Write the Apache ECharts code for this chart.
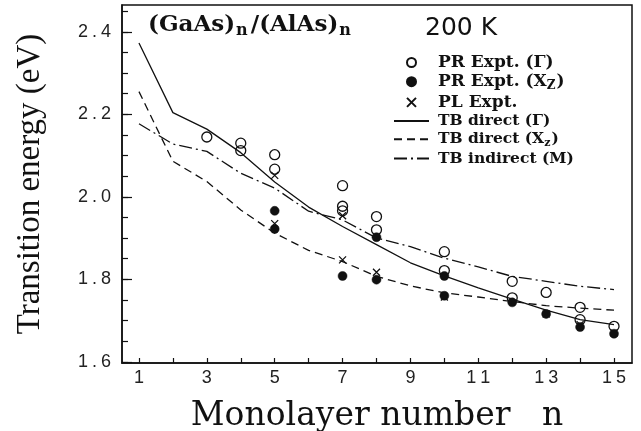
<!DOCTYPE html>
<html>
<head>
<meta charset="utf-8">
<script src="https://cdn.jsdelivr.net/npm/echarts@6/dist/echarts.min.js"></script>
<style>html,body{margin:0;padding:0;background:#fff;}#c{width:641px;height:431px;}</style>
</head>
<body>
<div id="c"></div>
<script>
// ---- data ----
const nTB = [1,2,3,4,5,6,7,8,9,10,11,12,13,14,15];
const tbDirectGamma = [2.373,2.204,2.164,2.107,2.036,1.975,1.928,1.884,1.840,1.808,1.779,1.752,1.725,1.702,1.690];
const tbDirectXz    = [2.255,2.086,2.037,1.968,1.912,1.870,1.843,1.807,1.784,1.767,1.757,1.746,1.736,1.730,1.725];
const tbIndirectM   = [2.177,2.128,2.110,2.057,2.021,1.965,1.944,1.900,1.879,1.851,1.830,1.807,1.795,1.783,1.775];

const prGammaN = [3,4,4,5,5,7,7,7,8,8,10,10,12,12,13,14,14,15];
const prGammaE = [2.145,2.130,2.112,2.102,2.067,2.027,1.977,1.966,1.952,1.920,1.867,1.821,1.795,1.755,1.768,1.732,1.702,1.686];
const prXzN = [5,5,7,8,8,10,10,12,13,14,15];
const prXzE = [1.966,1.922,1.808,1.902,1.799,1.808,1.760,1.744,1.716,1.684,1.668];
const plN = [5,5,7,7,8,10,13,14,15];
const plE = [2.052,1.935,1.954,1.847,1.817,1.757,1.716,1.690,1.670];

const xTicks = [1,2,3,4,5,6,7,8,9,10,11,12,13,14,15];
const xLabels = [1,3,5,7,9,11,13,15];
const yLabels = [1.6,1.8,2.0,2.2,2.4];
const yMinorTicks = [1.6,1.65,1.7,1.75,1.8,1.85,1.9,1.95,2.0,2.05,2.1,2.15,2.2,2.25,2.3,2.35,2.4,2.45];

const names = ['PR Expt. (\u0393)','PR Expt. (X_Z)','PL Expt.','TB direct (\u0393)','TB direct (X_z)','TB indirect (M)'];

function zip(a,b){return a.map((v,i)=>[v,b[i]]);}
function spaced(s){return s.split('').map(ch=>'{d|'+ch+'}').join('');}

const ink = '#111';
const serif = 'DejaVu Serif';
const tickFont = {d:{fontFamily:'Liberation Sans',fontSize:18,color:'#222',padding:[0,2,0,2]}};

const chart = echarts.init(document.getElementById('c'), null, {renderer:'canvas'});
chart.setOption({
  animation:false,
  backgroundColor:'#fff',
  title:[
    {text:'{a|(GaAs)}{s|n}{a|/(AlAs)}{s|n}', left:143, top:6,
     textStyle:{rich:{
       a:{fontFamily:serif,fontWeight:'bold',fontSize:23,color:ink},
       s:{fontFamily:serif,fontWeight:'bold',fontSize:16,color:ink,padding:[12,3,0,1]}
     }}},
    {text:'200 K', left:420, top:11, textStyle:{fontFamily:'DejaVu Sans',fontWeight:'normal',fontSize:25,color:ink}}
  ],
  legend:{
    orient:'vertical', left:388, top:49,
    itemWidth:35, itemHeight:9, itemGap:2.2,
    data:names,
    formatter:function(name){
      if(name===names[0]) return '{a|PR Expt. (\u0393)}';
      if(name===names[1]) return '{a|PR Expt. (X}{s|Z}{b|)}';
      if(name===names[2]) return '{a|PL Expt.}';
      if(name===names[3]) return '{t|TB direct (\u0393)}';
      if(name===names[4]) return '{t|TB direct (X}{u|z}{c|)}';
      return '{t|TB indirect (M)}';
    },
    textStyle:{color:ink, rich:{
      a:{fontFamily:serif,fontWeight:'bold',fontSize:17,color:ink,padding:[0,0,0,4]},
      b:{fontFamily:serif,fontWeight:'bold',fontSize:17,color:ink},
      s:{fontFamily:serif,fontWeight:'bold',fontSize:12,color:ink,padding:[8,1,0,0]},
      t:{fontFamily:serif,fontWeight:'bold',fontSize:15.5,color:ink,padding:[0,0,0,4]},
      c:{fontFamily:serif,fontWeight:'bold',fontSize:15.5,color:ink},
      u:{fontFamily:serif,fontWeight:'bold',fontSize:11,color:ink,padding:[7,1,0,0]}
    }}
  },
  grid:{left:122,right:9,top:5,bottom:68,show:true,borderColor:ink,borderWidth:1.5,backgroundColor:'transparent',outerBoundsMode:'none',containLabel:false},
  xAxis:{
    type:'value', min:0.5, max:15.53,
    name:'Monolayer number   n', nameLocation:'middle', nameGap:37,
    nameTextStyle:{fontFamily:serif,fontSize:33,color:ink},
    axisLine:{show:true,lineStyle:{color:ink,width:1.5}},
    axisTick:{show:true,inside:true,length:5,customValues:xTicks,lineStyle:{color:ink,width:1.2}},
    axisLabel:{customValues:xLabels,margin:6,formatter:v=>spaced(String(v)),rich:tickFont},
    splitLine:{show:false}
  },
  yAxis:[
    {type:'value', min:1.597, max:2.465, position:'left',
     name:'Transition energy (eV)', nameLocation:'middle', nameGap:75, nameRotate:90,
     nameTextStyle:{fontFamily:'Liberation Serif',fontSize:33,color:ink},
     axisLine:{show:true,lineStyle:{color:ink,width:1.5}},
     axisTick:{show:true,inside:true,length:10,customValues:yLabels,lineStyle:{color:ink,width:1.2}},
     axisLabel:{customValues:yLabels,margin:9,formatter:v=>spaced(v.toFixed(1)),rich:tickFont},
     splitLine:{show:false}},
    {type:'value', min:1.597, max:2.465, position:'left',
     axisLine:{show:false},
     axisTick:{show:true,inside:true,length:6,customValues:yMinorTicks,lineStyle:{color:ink,width:1.2}},
     axisLabel:{show:false}, splitLine:{show:false}}
  ],
  series:[
    {name:names[3],type:'line',data:zip(nTB,tbDirectGamma),symbol:'none',lineStyle:{color:ink,width:1.3,type:'solid'},itemStyle:{color:'rgba(0,0,0,0)'},z:2},
    {name:names[4],type:'line',data:zip(nTB,tbDirectXz),symbol:'none',lineStyle:{color:ink,width:1.3,type:[8,5]},itemStyle:{color:'rgba(0,0,0,0)'},z:2},
    {name:names[5],type:'line',data:zip(nTB,tbIndirectM),symbol:'none',lineStyle:{color:ink,width:1.3,type:[13,4,2,4]},itemStyle:{color:'rgba(0,0,0,0)'},z:2},
    {name:names[0],type:'scatter',data:zip(prGammaN,prGammaE),symbol:'circle',symbolSize:10,itemStyle:{color:'rgba(0,0,0,0)',borderColor:ink,borderWidth:1.3,opacity:1},z:3},
    {name:names[1],type:'scatter',data:zip(prXzN,prXzE),symbol:'circle',symbolSize:9,itemStyle:{color:ink,borderColor:ink,borderWidth:0.5,opacity:1},z:4},
    {name:names[2],type:'scatter',data:zip(plN,plE),symbol:'path://M0,0L10,10M10,0L0,10',symbolSize:7,itemStyle:{color:'none',borderColor:ink,borderWidth:1.3,opacity:1},z:5}
  ]
});
</script>
</body>
</html>
